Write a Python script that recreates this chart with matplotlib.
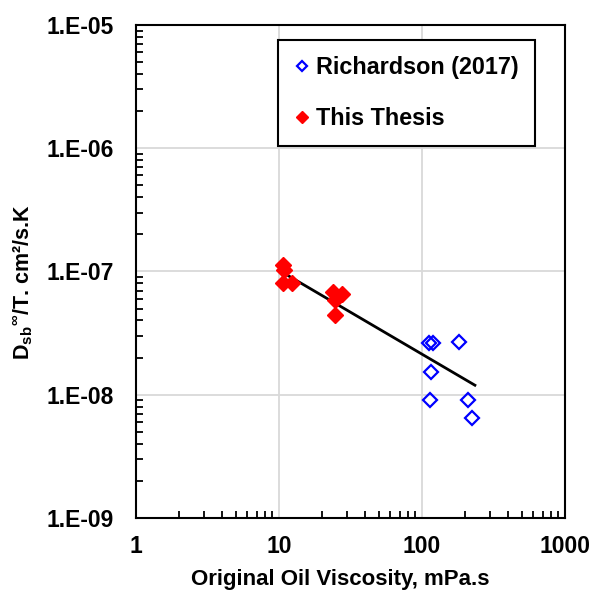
import matplotlib
matplotlib.use("Agg")
import matplotlib.pyplot as plt
import numpy as np

plt.rcParams['font.family'] = ['Liberation Sans', 'DejaVu Sans']
plt.rcParams['font.weight'] = 'bold'
plt.rcParams['mathtext.default'] = 'regular'

# --- Richardson (2017) ---
rich_visc = [112.5, 120, 182, 115, 113.7, 209, 226]
rich_dsb = [2.63e-8, 2.65e-8, 2.68e-8, 1.53e-8, 9.1e-9, 9.1e-9, 6.5e-9]

# --- this work ---
thesis_visc = [10.6, 10.8, 10.7, 12.4, 23.9, 27.6, 24.5, 24.5]
thesis_dsb = [1.12e-7, 1.02e-7, 8.1e-8, 8.1e-8, 6.75e-8, 6.5e-8, 5.9e-8, 4.4e-8]

# power-law trend: D/T = a * mu^b
fit_a = 4.89e-7
fit_b = -0.68
fit_range = [10.8, 235]

fig = plt.figure(figsize=(5.92, 5.92), dpi=100)
ax = fig.add_axes([0.230, 0.125, 0.724, 0.833])

ax.set_xscale('log')
ax.set_yscale('log')
ax.set_xlim(1, 1000)
ax.set_ylim(1e-9, 1e-5)

ax.grid(True, which='major', color='#d9d9d9', linewidth=1.3)
ax.set_axisbelow(True)

xfit = np.logspace(np.log10(fit_range[0]), np.log10(fit_range[1]), 50)
ax.plot(xfit, fit_a * xfit ** fit_b, color='black', linewidth=2.0, zorder=2)

ax.plot(rich_visc, rich_dsb, linestyle='none', marker='D', ms=7,
        mfc='none', mec='#0000ff', mew=1.6, label='Richardson (2017)', zorder=3)
ax.plot(thesis_visc, thesis_dsb, linestyle='none', marker='D', ms=8.5,
        mfc='#ff0000', mec='#ff0000', mew=1, label='This Thesis', zorder=4)

ax.set_xticks([1, 10, 100, 1000])
ax.set_xticklabels(['1', '10', '100', '1000'])
ax.set_yticks([1e-9, 1e-8, 1e-7, 1e-6, 1e-5])
ax.set_yticklabels(['1.E-09', '1.E-08', '1.E-07', '1.E-06', '1.E-05'])

ax.tick_params(which='major', length=0, labelsize=16.5, pad=16)
ax.tick_params(axis='x', which='major', pad=12)
ax.tick_params(which='minor', direction='in', length=5, width=1.3,
               top=False, right=False, labelleft=False, labelbottom=False)

for s in ax.spines.values():
    s.set_linewidth(1.5)
    s.set_color('black')

ax.set_xlabel('Original Oil Viscosity, mPa.s', fontsize=16, fontweight='bold')
ax.set_ylabel('D$_{sb}$$^{∞}$/T. cm²/s.K', fontsize=15.5, fontweight='bold')
ax.xaxis.set_label_coords(0.476, -0.104)
ax.yaxis.set_label_coords(-0.236, 0.478)

leg = ax.legend(loc='upper right', bbox_to_anchor=(0.930, 0.970), fontsize=16.8,
                frameon=True, fancybox=False, edgecolor='black', framealpha=1,
                handlelength=0.6, handletextpad=0.3, labelspacing=1.19,
                borderpad=0.7, borderaxespad=0, markerscale=0.75)
leg.get_frame().set_linewidth(1.5)

fig.savefig('out.png', dpi=100)
